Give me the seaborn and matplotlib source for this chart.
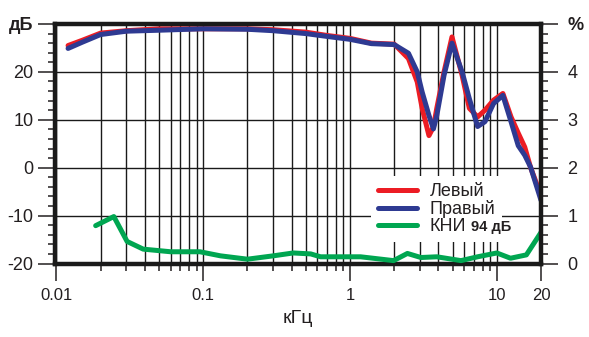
import numpy as np
import pandas as pd
import matplotlib
matplotlib.use("Agg")
import matplotlib.pyplot as plt
import seaborn as sns
from matplotlib.ticker import FixedLocator, FixedFormatter, NullFormatter, MultipleLocator
from matplotlib.lines import Line2D

# ---------------- data ----------------
freq_khz = [0.012, 0.015, 0.02, 0.03, 0.05, 0.1, 0.2, 0.3, 0.5, 0.7, 1.0, 1.4, 2.0,
            2.5, 2.87, 3.1, 3.45, 3.7, 3.9, 4.37, 4.95, 5.8, 6.5, 7.4, 8.3, 9.5,
            11.0, 12.5, 14.0, 15.5, 17.0, 18.5, 20.0]
left_db = [25.5, 26.6, 28.1, 28.6, 29.0, 29.0, 29.0, 28.8, 28.3, 27.6, 27.0, 26.0, 25.8,
           22.8, 17.9, 12.4, 6.7, 8.5, 12.4, 20.0, 27.3, 19.3, 12.4, 10.6, 12.0, 14.1,
           15.5, 10.6, 7.2, 4.3, 0.0, -3.0, -6.0]
right_db = [24.9, 26.2, 27.8, 28.5, 28.7, 29.0, 28.9, 28.6, 28.0, 27.4, 26.8, 25.9, 25.7,
            23.9, 20.0, 15.8, 10.9, 8.1, 10.9, 19.3, 26.0, 20.0, 14.4, 8.6, 9.6, 13.4,
            15.1, 9.6, 4.6, 2.6, 0.1, -3.5, -6.8]

thd_freq_khz = [0.0185, 0.0246, 0.0303, 0.039, 0.06, 0.095, 0.131, 0.2, 0.3, 0.41, 0.54,
                0.63, 1.18, 1.98, 2.46, 3.04, 3.9, 5.7, 7.4, 10.0, 12.4, 15.9, 20.0]
thd_pct = [0.79, 0.98, 0.46, 0.30, 0.245, 0.245, 0.16, 0.09, 0.16, 0.22, 0.20,
           0.14, 0.14, 0.06, 0.21, 0.125, 0.14, 0.06, 0.14, 0.22, 0.11, 0.18, 0.65]

x_major_ticks = [0.01, 0.1, 1, 10, 20]
x_major_labels = ["0.01", "0.1", "1", "10", "20"]
x_minor_ticks = [0.02, 0.03, 0.04, 0.05, 0.06, 0.07, 0.08, 0.09,
                 0.2, 0.3, 0.4, 0.5, 0.6, 0.7, 0.8, 0.9,
                 2, 3, 4, 5, 6, 7, 8, 9]
db_ticks = [-20, -10, 0, 10, 20, 30]
db_labels = ["-20", "-10", "0", "10", "20", "дБ"]
pct_ticks = [0, 1, 2, 3, 4, 5]
pct_labels = ["0", "1", "2", "3", "4", "%"]
legend_labels = ["Левый", "Правый", "КНИ"]
legend_suffix = "94 дБ"
x_label = "кГц"

RED = "#ec1c24"
BLUE = "#2e3a92"
GREEN = "#00a651"
INK = "#231f20"

# ---------------- style ----------------
sns.set_style("ticks")
plt.rcParams["font.family"] = ["Liberation Sans", "DejaVu Sans"]
plt.rcParams["text.color"] = INK
plt.rcParams["xtick.color"] = INK
plt.rcParams["ytick.color"] = INK

W, H = 589, 337
fig = plt.figure(figsize=(W / 100, H / 100), dpi=100)
L, R, T, B = 54.5, 541, 24, 263.5
ax = fig.add_axes([L / W, 1 - B / H, (R - L) / W, (B - T) / H])
ax.set_xscale("log")

df = pd.DataFrame({"f": freq_khz, "left": left_db, "right": right_db})
sns.lineplot(data=df, x="f", y="left", ax=ax, color=RED, lw=3.6, estimator=None, sort=False)
sns.lineplot(data=df, x="f", y="right", ax=ax, color=BLUE, lw=3.6, estimator=None, sort=False)

ax2 = ax.twinx()
dthd = pd.DataFrame({"f": thd_freq_khz, "thd": thd_pct})
sns.lineplot(data=dthd, x="f", y="thd", ax=ax2, color=GREEN, lw=3.6, estimator=None, sort=False)

ax.set_xlim(0.0097, 20)
ax.set_ylim(-20, 30)
ax2.set_ylim(0, 5)
ax.set_ylabel("")
ax2.set_ylabel("")
ax.set_xlabel(x_label, fontsize=14, labelpad=5, color=INK)

ax.xaxis.set_major_locator(FixedLocator(x_major_ticks))
ax.xaxis.set_major_formatter(FixedFormatter(x_major_labels))
ax.xaxis.set_minor_locator(FixedLocator(x_minor_ticks))
ax.xaxis.set_minor_formatter(NullFormatter())

ax.yaxis.set_major_locator(FixedLocator(db_ticks))
ax.yaxis.set_major_formatter(FixedFormatter(db_labels))
ax.yaxis.set_minor_locator(MultipleLocator(2))
ax2.yaxis.set_major_locator(FixedLocator(pct_ticks))
ax2.yaxis.set_major_formatter(FixedFormatter(pct_labels))
ax2.yaxis.set_minor_locator(MultipleLocator(0.2))

ax.tick_params(axis="x", which="major", direction="out", length=12, width=1.1, pad=6, labelsize=12)
ax.tick_params(axis="x", which="minor", direction="out", length=5, width=1.1)
ax.tick_params(axis="y", which="major", direction="out", length=12, width=1.1, pad=3, labelsize=13)
ax.tick_params(axis="y", which="minor", direction="out", length=5, width=1.1)
ax2.tick_params(axis="y", which="major", direction="out", length=12, width=1.1, pad=7, labelsize=13)
ax2.tick_params(axis="y", which="minor", direction="out", length=5, width=1.1)

for lab in ax.get_yticklabels():
    if lab.get_text() == "дБ":
        lab.set_fontweight("bold")
for lab in ax2.get_yticklabels():
    if lab.get_text() == "%":
        lab.set_fontweight("bold")

ax.grid(True, which="major", axis="y", color="#1a1a1a", lw=1.0)
ax.grid(True, which="both", axis="x", color="#1a1a1a", lw=1.0)
ax.set_axisbelow(True)

for a in (ax, ax2):
    for s in a.spines.values():
        s.set_linewidth(3.2)
        s.set_color("#1a1a1a")
        s.set_visible(True)
ax.spines["right"].set_visible(False)
for k in ("left", "top", "bottom"):
    ax2.spines[k].set_visible(False)

handles = [Line2D([], [], color=c, lw=3.6) for c in (RED, BLUE, GREEN)]
leg = ax2.legend(handles, legend_labels, loc="upper left", bbox_to_anchor=(0.650, 0.367),
                 borderaxespad=0, frameon=True, fancybox=False, edgecolor="none",
                 facecolor="white", framealpha=1, fontsize=13, handlelength=2.15,
                 handletextpad=0.7, labelspacing=0.0, borderpad=0.4)
for t in leg.get_texts():
    t.set_color(INK)

fig.canvas.draw()
renderer = fig.canvas.get_renderer()
t = leg.get_texts()[2]
bb = t.get_window_extent(renderer)
try:
    descent = t._get_layout(renderer)[2]
except Exception:
    descent = 0.21 * 13 * 100 / 72
fig.text((bb.x1 + 5) / W, (bb.y0 + descent) / H, legend_suffix, fontsize=10.5,
         fontweight="bold", va="baseline", ha="left", color=INK)

fig.savefig("out.png", dpi=100)
